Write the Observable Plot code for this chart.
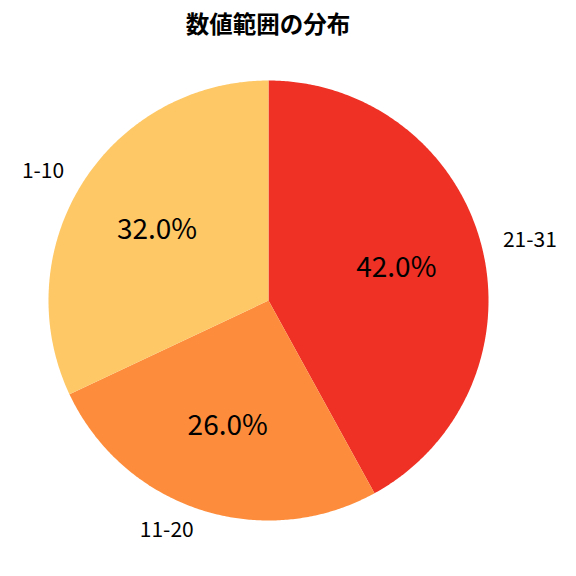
<!DOCTYPE html>
<html>
<head>
<meta charset="utf-8">
<script src="https://cdn.jsdelivr.net/npm/d3@7"></script>
<script src="https://cdn.jsdelivr.net/npm/@observablehq/plot@0.6"></script>
<style>
  html, body { margin: 0; padding: 0; background: #fff; }
  #wrap { width: 576px; height: 576px; overflow: hidden; font-family: "Noto Sans CJK JP", "Noto Sans", sans-serif; }
  #title { width: 536px; height: 48px; line-height: 46px; text-align: center; font-size: 23.5px; font-weight: bold; color: #000; }
</style>
</head>
<body>
<div id="wrap">
  <div id="title">数値範囲の分布</div>
  <div id="chart"></div>
</div>
<script>
const categories = ["21-31", "11-20", "1-10"];
const values = [42, 26, 32];
const colors = ["#ee3124", "#fd8d3c", "#fec866"];

const total = d3.sum(values);
const slicePoints = [];
const labels = [];
let acc = 0;
categories.forEach((c, i) => {
  const a0 = acc / total * 2 * Math.PI;
  acc += values[i];
  const a1 = acc / total * 2 * Math.PI;
  slicePoints.push({cat: c, x: 0, y: 0});
  const n = Math.max(2, Math.ceil((a1 - a0) / (Math.PI / 360)));
  for (let k = 0; k <= n; k++) {
    const a = a0 + (a1 - a0) * k / n;
    slicePoints.push({cat: c, x: Math.sin(a), y: Math.cos(a)});
  }
  slicePoints.push({cat: c, x: 0, y: 0});
  const am = (a0 + a1) / 2;
  labels.push({
    cat: c,
    pct: (values[i] / total * 100).toFixed(1) + "%",
    lx: 1.1 * Math.sin(am), ly: 1.1 * Math.cos(am),
    px: 0.6 * Math.sin(am), py: 0.6 * Math.cos(am)
  });
});

const W = 576, H = 528, R = 220, CX = 268, CY = 252;
const chart = Plot.plot({
  width: W, height: H,
  margin: 0,
  style: {fontFamily: "'Noto Sans CJK JP', 'Noto Sans', sans-serif", background: "#fff"},
  x: {domain: [-CX / R, (W - CX) / R], range: [0, W], axis: null},
  y: {domain: [-(H - CY) / R, CY / R], range: [H, 0], axis: null},
  color: {domain: categories, range: colors},
  marks: [
    Plot.line(slicePoints, {x: "x", y: "y", z: "cat", fill: "cat", stroke: null, curve: "linear"}),
    Plot.text(labels.filter(d => d.lx < 0), {x: "lx", y: "ly", text: "cat", textAnchor: "end", fontSize: 21, fill: "#000"}),
    Plot.text(labels.filter(d => d.lx >= 0), {x: "lx", y: "ly", text: "cat", textAnchor: "start", fontSize: 21, fill: "#000"}),
    Plot.text(labels, {x: "px", y: "py", text: "pct", textAnchor: "middle", fontSize: 28, fill: "#000"})
  ]
});
document.getElementById("chart").appendChild(chart);
</script>
</body>
</html>
